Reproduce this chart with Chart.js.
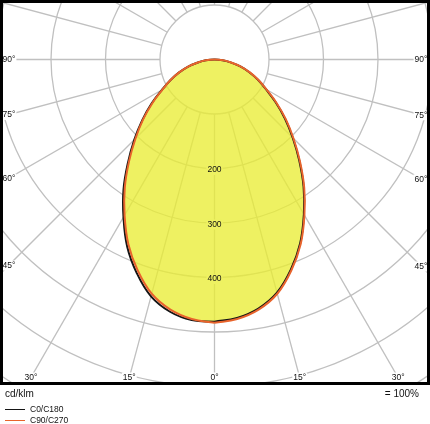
<!DOCTYPE html>
<html>
<head>
<meta charset="utf-8">
<script src="https://cdn.jsdelivr.net/npm/chart.js@4.4.1/dist/chart.umd.min.js"></script>
<style>
  html, body { margin: 0; padding: 0; background: #fff; }
  canvas { display: block; }
</style>
</head>
<body>
<canvas id="ldc" width="430" height="424"></canvas>
<script>
// gamma angles (deg) and luminous intensity in cd/klm
const ANGLES = [0, 5, 10, 15, 20, 25, 30, 35, 40, 45, 50, 55, 60, 65, 70, 75, 80, 85, 90];
const C0   = [481, 476, 464, 443, 410, 372, 328, 285, 242, 203, 169, 137, 109, 88, 68, 49, 30, 15, 0];
const C180 = [481, 480, 470, 450, 417, 379, 334, 291, 247, 208, 173, 141, 111, 89, 69, 50, 31, 16, 0];
const C90  = [483, 478, 466, 445, 412, 374, 330, 287, 244, 205, 171, 139, 110, 89, 69, 50, 31, 16, 0];
const C270 = [483, 478, 466, 445, 412, 374, 330, 287, 244, 205, 171, 139, 110, 89, 69, 50, 31, 16, 0];

// grid
const RINGS = [100, 200, 300, 400, 500, 600, 700];
const RING_LABELS = [200, 300, 400];
const SPOKES = [0, 15, 30, 45, 60, 75, 90, 105, 120, 135, 150, 165, 180, 195, 210, 225, 240, 255, 270, 285, 300, 315, 330, 345];
const SIDE_TICKS = [90, 75, 60, 45];
const BOTTOM_TICKS = [30, 15, 0];

const FONT = '"Liberation Sans", Arial, Helvetica, sans-serif';
const GRID_COLOR = '#c0c0c0';
const BLACK = '#151515';
const ORANGE = '#e8642c';
const rad = d => d * Math.PI / 180;

// one closed loop: right half 0..85, top (90), left half 85..0
function loop(right, left) {
  const pts = [];
  ANGLES.forEach((a, i) => {
    if (a === 90) return;
    pts.push({ x: right[i] * Math.sin(rad(a)), y: -right[i] * Math.cos(rad(a)) });
  });
  pts.push({ x: 0, y: 0 });
  for (let i = ANGLES.length - 1; i >= 0; i--) {
    const a = ANGLES[i];
    if (a === 90) continue;
    pts.push({ x: -left[i] * Math.sin(rad(a)), y: -left[i] * Math.cos(rad(a)) });
  }
  return pts;
}

function labelBox(ctx, text, x, y, bg) {
  const w = ctx.measureText(text).width;
  if (bg) {
    ctx.fillStyle = bg;
    ctx.fillRect(x - w / 2 - 1, y - 5, w + 2, 10);
  }
  ctx.fillStyle = '#111';
  ctx.fillText(text, x, y);
}

const polarGrid = {
  id: 'polarGrid',
  beforeDatasetsDraw(chart) {
    const { ctx, chartArea: a, scales: { x, y } } = chart;
    const cx = x.getPixelForValue(0), cy = y.getPixelForValue(0);
    ctx.save();
    ctx.beginPath();
    ctx.rect(a.left, a.top, a.width, a.height);
    ctx.clip();
    ctx.strokeStyle = GRID_COLOR;
    ctx.lineWidth = 1.3;
    RINGS.forEach(r => {
      ctx.beginPath();
      ctx.arc(cx, cy, x.getPixelForValue(r) - cx, 0, Math.PI * 2);
      ctx.stroke();
    });
    SPOKES.forEach(d => {
      const s = Math.sin(rad(d)), c = Math.cos(rad(d));
      const r0 = RINGS[0], r1 = 1200;
      ctx.beginPath();
      ctx.moveTo(x.getPixelForValue(r0 * s), y.getPixelForValue(-r0 * c));
      ctx.lineTo(x.getPixelForValue(r1 * s), y.getPixelForValue(-r1 * c));
      ctx.stroke();
    });
    ctx.restore();
  },
  afterDatasetsDraw(chart) {
    const { ctx, chartArea: a, scales: { x, y } } = chart;
    const cx = x.getPixelForValue(0), cy = y.getPixelForValue(0);
    ctx.save();
    ctx.font = '8.5px ' + FONT;
    ctx.textAlign = 'center';
    ctx.textBaseline = 'middle';

    // angle labels where the spokes meet the frame
    const xl = a.left + 9, xr = a.right - 9, yb = a.bottom - 7.5;
    SIDE_TICKS.forEach(d => {
      const t = Math.cos(rad(d)) / Math.sin(rad(d));
      labelBox(ctx, d + '°', xl, cy + (cx - xl) * t + 0.5, '#fff');
      labelBox(ctx, d + '°', xr, cy + (xr - cx) * t + 0.5, '#fff');
    });
    BOTTOM_TICKS.forEach(d => {
      const off = (yb - cy) * Math.tan(rad(d));
      labelBox(ctx, d + '°', cx - off, yb, '#fff');
      if (d) labelBox(ctx, d + '°', cx + off, yb, '#fff');
    });

    // intensity labels along 0°
    RING_LABELS.forEach(r => {
      labelBox(ctx, String(r), cx, y.getPixelForValue(-r) + 1.5, 'rgb(238,241,98)');
    });

    // frame
    ctx.strokeStyle = '#000';
    ctx.lineWidth = 3;
    ctx.strokeRect(a.left + 1.5, a.top + 1.5, a.width - 3, a.height - 3);
    ctx.restore();
  },
  afterDraw(chart) {
    const { ctx, chartArea: a } = chart;
    ctx.save();
    ctx.fillStyle = '#111';
    ctx.textBaseline = 'middle';
    ctx.font = '10px ' + FONT;
    ctx.textAlign = 'left';
    ctx.fillText('cd/klm', 5, a.bottom + 9);
    ctx.textAlign = 'right';
    ctx.fillText('= 100%', 419, a.bottom + 9);

    // legend from the curve datasets
    ctx.font = '8.5px ' + FONT;
    ctx.textAlign = 'left';
    chart.data.datasets.filter(ds => ds.label).forEach((ds, i) => {
      const ly = a.bottom + 24.5 + i * 11;
      ctx.strokeStyle = ds.borderColor;
      ctx.lineWidth = 1;
      ctx.beginPath();
      ctx.moveTo(5, ly);
      ctx.lineTo(25, ly);
      ctx.stroke();
      ctx.fillStyle = '#111';
      ctx.fillText(ds.label, 30, ly);
    });
    ctx.restore();
  }
};

new Chart(document.getElementById('ldc'), {
  type: 'scatter',
  data: {
    datasets: [
      {
        data: loop(C90, C270),
        showLine: true,
        tension: 0.4,
        borderWidth: 0,
        pointRadius: 0,
        backgroundColor: 'rgba(233,237,51,0.77)',
        fill: 'shape',
        order: 2
      },
      {
        label: 'C0/C180',
        data: loop(C0, C180),
        showLine: true,
        tension: 0.4,
        borderColor: BLACK,
        borderWidth: 2,
        pointRadius: 0,
        fill: false,
        order: 1
      },
      {
        label: 'C90/C270',
        data: loop(C90, C270),
        showLine: true,
        tension: 0.4,
        borderColor: ORANGE,
        borderWidth: 2,
        pointRadius: 0,
        fill: false,
        order: 0
      }
    ]
  },
  options: {
    responsive: false,
    animation: false,
    devicePixelRatio: 1,
    layout: { padding: { left: 0, right: 0, top: 0, bottom: 39 } },
    scales: {
      x: { type: 'linear', display: false, min: -214.5 / 0.545, max: 215.5 / 0.545 },
      y: { type: 'linear', display: false, min: -325.5 / 0.545, max: 59.5 / 0.545 }
    },
    plugins: {
      legend: { display: false },
      tooltip: { enabled: false }
    }
  },
  plugins: [polarGrid]
});
</script>
</body>
</html>
